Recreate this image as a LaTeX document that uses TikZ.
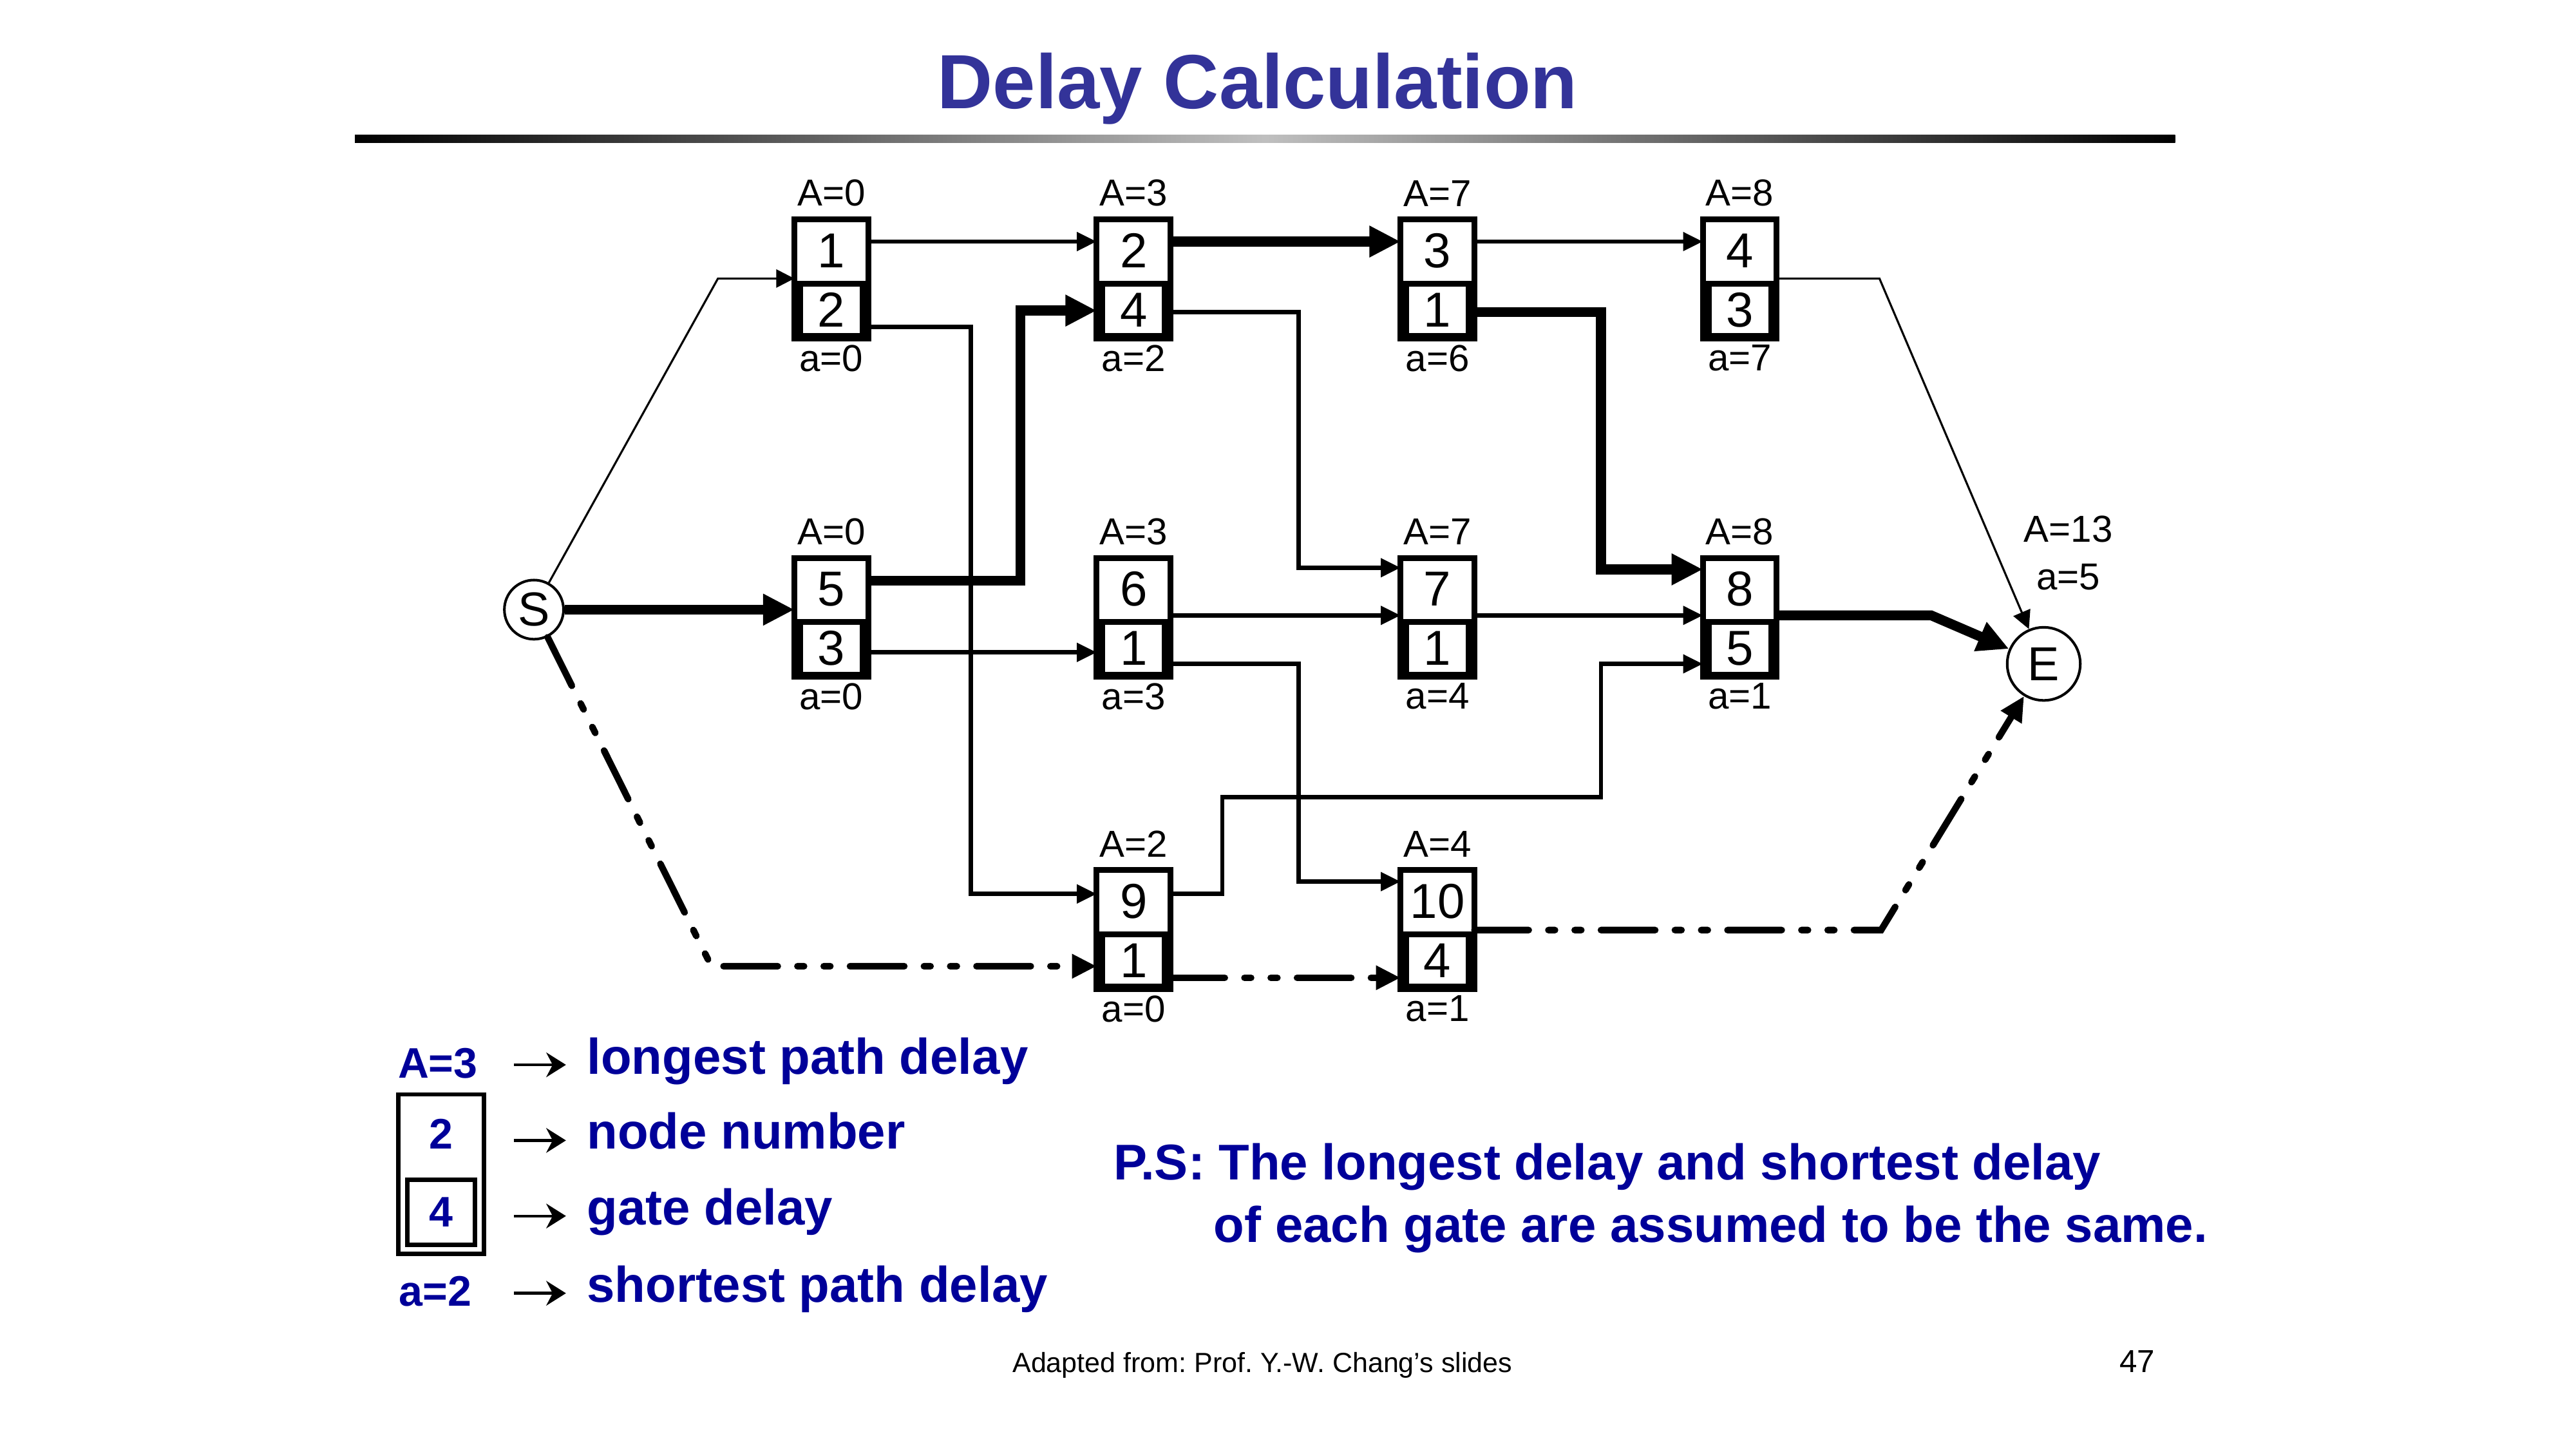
\documentclass[tikz,border=0pt]{standalone}
\usepackage{fontspec}
\setmainfont{Liberation Sans}
\usetikzlibrary{arrows.meta,positioning,fit}
\definecolor{titleblue}{RGB}{51,51,153}
\definecolor{keyblue}{RGB}{0,0,153}
\frenchspacing

\tikzset{
  numcell/.style={minimum width=0.84cm, minimum height=0.70cm, inner sep=0pt, outer sep=0pt,
    font=\fontsize{17}{18}\selectfont},
  dlycell/.style={draw, line width=2pt, minimum width=0.76cm, minimum height=0.64cm,
    inner sep=0pt, outer sep=0pt, font=\fontsize{17}{18}\selectfont},
  gateframe/.style={draw, line width=2pt, inner sep=0.03cm, outer sep=0pt},
  gatelbl/.style={font=\fontsize{13}{15}\selectfont, inner sep=2pt},
  gatetop/.style={gatelbl, inner sep=4.3pt},
  endpt/.style={draw, circle, line width=0.9pt, inner sep=0pt, font=\fontsize{16.5}{18}\selectfont},
  wire/.style={line width=1.5pt, -{Triangle[length=0.24cm,width=0.22cm]}},
  thinwire/.style={line width=0.7pt, -{Triangle[length=0.22cm,width=0.22cm]}},
  critwire/.style={line width=3.4pt, -{Triangle[length=0.38cm,width=0.36cm]}},
  shortwire/.style={line width=2.3pt, line cap=round,
    dash pattern=on 0.66cm off 0.24cm on 0.08cm off 0.24cm on 0.08cm off 0.24cm,
    -{Triangle[length=0.3cm,width=0.28cm]}},
  keytext/.style={text=keyblue, font=\bfseries\fontsize{17.4}{21}\selectfont, inner sep=0pt},
  keylbl/.style={text=keyblue, font=\bfseries\fontsize{14.8}{18}\selectfont, inner sep=0pt},
  keyarrow/.style={line width=1pt, -{Stealth[length=0.24cm,width=0.3cm]}}
}

\begin{document}
\begin{tikzpicture}
  \useasboundingbox (0,0) rectangle (31.36,17.64);

  \node[font=\bfseries\fontsize{26.6}{32}\selectfont, text=titleblue, anchor=base] (title) at (15.31,16.32) {Delay Calculation};
  \shade[left color=black, right color=black, middle color=black!25] (4.32,15.90) rectangle (26.48,16.00); %Title rule

  \node[endpt, minimum size=0.72cm] (S) at (6.50,10.22) {S};  %Source
  \node[endpt, minimum size=0.89cm] (E) at (24.88,9.56) {E};  %Sink
  \node[gatelbl] (Elong) at (25.18,11.20) {A=13};
  \node[gatelbl] (Eshort) at (25.18,10.62) {a=5};

  % gate 1
  \node[numcell] (n1) at (10.12,14.59) {1};
  \node[dlycell, below=0.05cm of n1] (d1) {2};
  \node[gateframe, fit=(n1)(d1), label={[gatetop]above:A=0}, label={[gatelbl]below:a=0}] (g1) {};
  % gate 2
  \node[numcell] (n2) at (13.80,14.59) {2};
  \node[dlycell, below=0.05cm of n2] (d2) {4};
  \node[gateframe, fit=(n2)(d2), label={[gatetop]above:A=3}, label={[gatelbl]below:a=2}] (g2) {};
  % gate 3
  \node[numcell] (n3) at (17.50,14.59) {3};
  \node[dlycell, below=0.05cm of n3] (d3) {1};
  \node[gateframe, fit=(n3)(d3), label={[gatetop]above:A=7}, label={[gatelbl]below:a=6}] (g3) {};
  % gate 4
  \node[numcell] (n4) at (21.18,14.59) {4};
  \node[dlycell, below=0.05cm of n4] (d4) {3};
  \node[gateframe, fit=(n4)(d4), label={[gatetop]above:A=8}, label={[gatelbl]below:a=7}] (g4) {};
  % gate 5
  \node[numcell] (n5) at (10.12,10.47) {5};
  \node[dlycell, below=0.05cm of n5] (d5) {3};
  \node[gateframe, fit=(n5)(d5), label={[gatetop]above:A=0}, label={[gatelbl]below:a=0}] (g5) {};
  % gate 6
  \node[numcell] (n6) at (13.80,10.47) {6};
  \node[dlycell, below=0.05cm of n6] (d6) {1};
  \node[gateframe, fit=(n6)(d6), label={[gatetop]above:A=3}, label={[gatelbl]below:a=3}] (g6) {};
  % gate 7
  \node[numcell] (n7) at (17.50,10.47) {7};
  \node[dlycell, below=0.05cm of n7] (d7) {1};
  \node[gateframe, fit=(n7)(d7), label={[gatetop]above:A=7}, label={[gatelbl]below:a=4}] (g7) {};
  % gate 8
  \node[numcell] (n8) at (21.18,10.47) {8};
  \node[dlycell, below=0.05cm of n8] (d8) {5};
  \node[gateframe, fit=(n8)(d8), label={[gatetop]above:A=8}, label={[gatelbl]below:a=1}] (g8) {};
  % gate 9
  \node[numcell] (n9) at (13.80,6.67) {9};
  \node[dlycell, below=0.05cm of n9] (d9) {1};
  \node[gateframe, fit=(n9)(d9), label={[gatetop]above:A=2}, label={[gatelbl]below:a=0}] (g9) {};
  % gate 10
  \node[numcell] (n10) at (17.50,6.67) {10};
  \node[dlycell, below=0.05cm of n10] (d10) {4};
  \node[gateframe, fit=(n10)(d10), label={[gatetop]above:A=4}, label={[gatelbl]below:a=1}] (g10) {};

  % connections
  \draw[thinwire] (S) -- (8.74,14.25) -- (g1.west |- 0,14.25);
  \draw[critwire] (S) -- (g5.west |- S);
  \draw[shortwire] (S) -- (8.66,5.88) -- (g9.west |- 0,5.88);
  \draw[wire] (g1.east |- 0,14.70) -- (g2.west |- 0,14.70);
  \draw[wire] (g1.east |- 0,13.66) -| (11.82,6.76) -- (g9.west |- 0,6.76);
  \draw[critwire] (g5.east |- 0,10.57) -| (12.42,13.86) -- (g2.west |- 0,13.86);
  \draw[wire] (g5.east |- 0,9.70) -- (g6.west |- 0,9.70);
  \draw[critwire] (g2.east |- 0,14.70) -- (g3.west |- 0,14.70);
  \draw[wire] (g2.east |- 0,13.84) -| (15.81,10.73) -- (g7.west |- 0,10.73);
  \draw[wire] (g3.east |- 0,14.70) -- (g4.west |- 0,14.70);
  \draw[critwire] (g3.east |- 0,13.84) -| (19.49,10.71) -- (g8.west |- 0,10.71);
  \draw[thinwire] (g4.east |- 0,14.25) -- (22.88,14.25) -- (E);
  \draw[wire] (g6.east |- 0,10.15) -- (g7.west |- 0,10.15);
  \draw[wire] (g6.east |- 0,9.56) -| (15.81,6.91) -- (g10.west |- 0,6.91);
  \draw[wire] (g7.east |- 0,10.15) -- (g8.west |- 0,10.15);
  \draw[critwire] (g8.east |- 0,10.15) -- (23.51,10.15) -- (E);
  \draw[wire] (g9.east |- 0,6.76) -| (14.88,7.94) -| (19.49,9.56) -- (g8.west |- 0,9.56);
  \draw[shortwire] (g9.east |- 0,5.74) -- (g10.west |- 0,5.74);
  \draw[shortwire] (g10.east |- 0,6.32) -- (22.90,6.32) -- (E);

  % legend
  \node[keylbl] (kA) at (5.33,4.70) {A=3};
  \node[keylbl] (k2) at (5.37,3.84) {2};
  \node[keylbl, draw=black, line width=1.5pt, minimum width=0.82cm, minimum height=0.79cm] (k4) at (5.37,2.885) {4};
  \draw[line width=1.5pt] (4.85,4.32) rectangle (5.89,2.38); %Legend box
  \node[keylbl] (ka) at (5.30,1.92) {a=2};
  \draw[keyarrow] (6.26,4.68) -- (6.89,4.68);
  \draw[keyarrow] (6.26,3.76) -- (6.89,3.76);
  \draw[keyarrow] (6.26,2.84) -- (6.89,2.84);
  \draw[keyarrow] (6.26,1.90) -- (6.89,1.90);
  \node[keytext, anchor=base west] (tA) at (7.14,4.57) {longest path delay};
  \node[keytext, anchor=base west] (t2) at (7.14,3.66) {node number};
  \node[keytext, anchor=base west] (t4) at (7.14,2.73) {gate delay};
  \node[keytext, anchor=base west] (ta) at (7.14,1.79) {shortest path delay};

  \node[keytext, anchor=base west] (ps1) at (13.55,3.28) {P.S: The longest delay and shortest delay};
  \node[keytext, anchor=base west] (ps2) at (14.77,2.52) {of each gate are assumed to be the same.};

  \node[anchor=base west, font=\fontsize{9.6}{11}\selectfont, inner sep=0pt] (credit) at (12.32,0.94) {Adapted from: Prof. Y.-W. Chang’s slides};
  \node[anchor=base east, font=\fontsize{11}{13}\selectfont, inner sep=0pt] (pgnum) at (26.24,0.94) {47};
\end{tikzpicture}
\end{document}
